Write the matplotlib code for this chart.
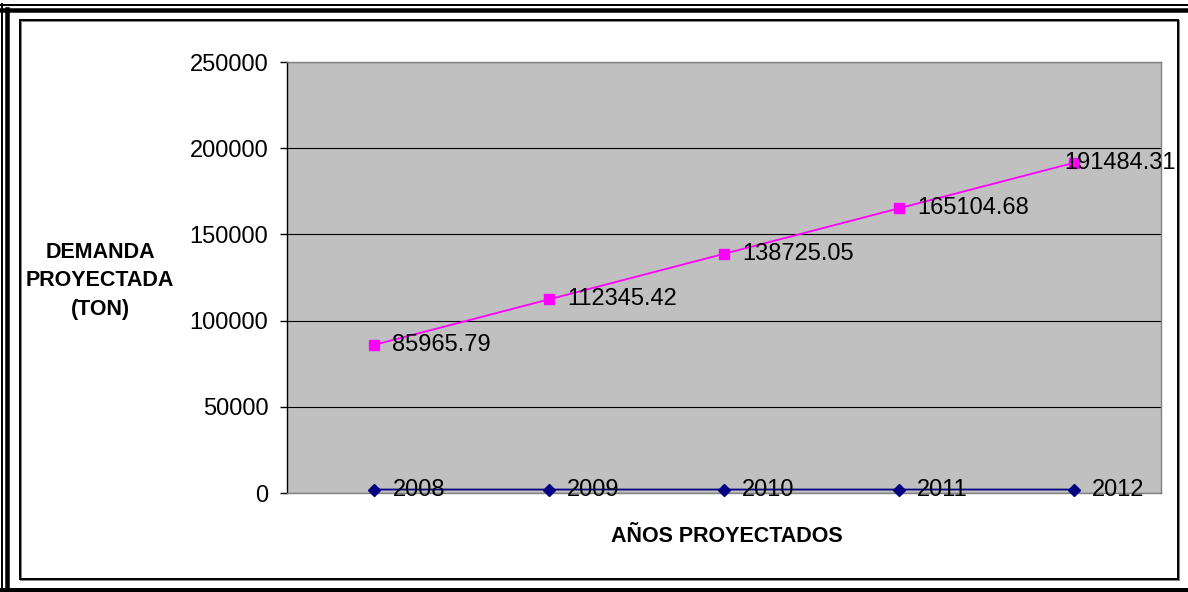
import matplotlib.pyplot as plt
from matplotlib.lines import Line2D
from matplotlib.patches import Rectangle

plt.rcParams['font.family'] = ['Liberation Sans', 'DejaVu Sans']

# data
years = [2008, 2009, 2010, 2011, 2012]
demanda = [85965.79, 112345.42, 138725.05, 165104.68, 191484.31]
demanda_labels = ['85965.79', '112345.42', '138725.05', '165104.68', '191484.31']
yticks = [0, 50000, 100000, 150000, 200000, 250000]

W, H = 1188, 592
fig = plt.figure(figsize=(W / 100, H / 100), dpi=100)


def px(x, y):
    return x / W, 1 - y / H


# outer double frame and inner chart-area frame
for (x0, y0, x1, y1, lw) in [(0, 4.5, W, 4.5, 2), (0, 9.5, W, 9.5, 4.5),
                             (2, 4, 2, H, 2), (6.5, 9, 6.5, H, 4.5),
                             (0, 590, W, 590, 4)]:
    a, b = px(x0, y0)
    c, d = px(x1, y1)
    fig.add_artist(Line2D([a, c], [b, d], color='black', lw=lw * 0.72,
                          transform=fig.transFigure))
fig.add_artist(Rectangle(px(21, 580), 1158 / W, 559 / H, fill=False,
                         ec='#808080', lw=1.4, transform=fig.transFigure))
fig.add_artist(Rectangle(px(20, 579), 1158 / W, 559 / H, fill=False,
                         ec='black', lw=1.4, transform=fig.transFigure))

ax = fig.add_axes([287 / W, 1 - 493 / H, 874 / W, 431 / H])
ax.set_facecolor('#C0C0C0')
x = [i + 0.5 for i in range(len(years))]

ax.plot(x, demanda, color='#FF00FF', lw=1.3, marker='s', ms=7, zorder=3,
        clip_on=False)
ax.plot(x, years, color='#000080', lw=1.3, marker='D', ms=6.5, zorder=3,
        clip_on=False)

fs = 17
for i, (xi, v, lab) in enumerate(zip(x, demanda, demanda_labels)):
    off = 13 if i < len(x) - 1 else -7
    ax.annotate(lab, (xi, v), xytext=(off, 0), textcoords='offset points',
                va='center', ha='left', fontsize=fs, zorder=4)
for xi, v in zip(x, years):
    ax.annotate(str(v), (xi, v), xytext=(13, 0), textcoords='offset points',
                va='center', ha='left', fontsize=fs, zorder=4)

ax.set_xlim(0, 5)
ax.set_ylim(0, 250000)
ax.set_yticks(yticks)
ax.set_yticklabels([str(t) for t in yticks], fontsize=fs)
ax.set_xticks([])
ax.tick_params(axis='y', length=5, width=1, pad=8.5, direction='out')
ax.yaxis.grid(True, color='black', lw=0.8)
ax.set_axisbelow(True)
for s in ['top', 'right', 'bottom']:
    ax.spines[s].set_color('#808080')
    ax.spines[s].set_linewidth(1)
ax.spines['left'].set_color('black')
ax.spines['left'].set_linewidth(1)

fig.text(100 / W, 1 - 281 / H, 'DEMANDA\nPROYECTADA\n(TON)', ha='center',
         va='center', fontsize=15.5, fontweight='bold', linespacing=1.45)
fig.text(727 / W, 1 - 536 / H, 'AÑOS PROYECTADOS', ha='center', va='center',
         fontsize=15.5, fontweight='bold')

plt.savefig('out.png', dpi=100)
